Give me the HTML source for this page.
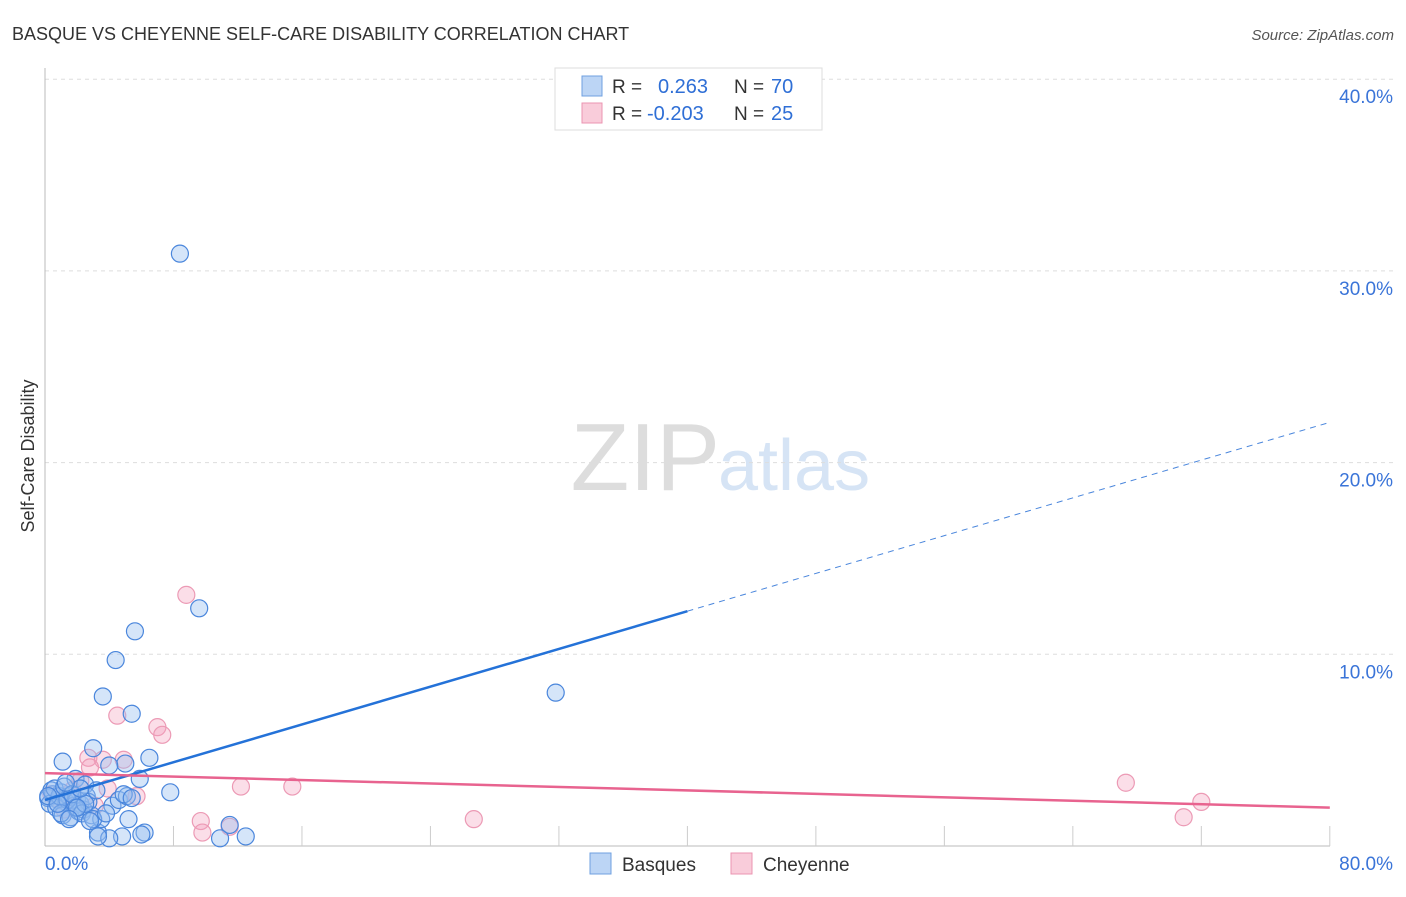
<!DOCTYPE html>
<html><head><meta charset="utf-8"><style>
body{margin:0;background:#fff;font-family:"Liberation Sans",sans-serif;}
svg text{font-family:"Liberation Sans",sans-serif;}
</style></head><body>
<svg id="c" width="1406" height="892">
<text x="12" y="40" font-size="18" fill="#333">BASQUE VS CHEYENNE SELF-CARE DISABILITY CORRELATION CHART</text>
<text x="1394" y="40" font-size="15" fill="#555" font-style="italic" text-anchor="end">Source: ZipAtlas.com</text>
<text x="720" y="490" font-size="96" fill="#ddd" font-family="Liberation Serif" text-anchor="end">ZIP</text>
<text x="718" y="490" font-size="72" fill="#d6e4f5">atlas</text>
<text transform="translate(34,456) rotate(-90)" font-size="18" fill="#333" text-anchor="middle">Self-Care Disability</text>
<g id="grid"></g><g id="pts"></g><g id="lines"></g>
<g>
<rect x="555" y="68" width="267" height="62" fill="#fff" stroke="#ddd"/>
<rect x="582" y="76" width="20" height="20" fill="#bcd5f5" stroke="#6fa0e0"/>
<rect x="582" y="103" width="20" height="20" fill="#f9ccda" stroke="#eb94b1"/>
<text x="612" y="93" font-size="19" fill="#333">R = </text><text x="658" y="93" font-size="20" fill="#2f6fd6">0.263</text>
<text x="734" y="93" font-size="19" fill="#333">N = </text><text x="771" y="93" font-size="20" fill="#2f6fd6">70</text>
<text x="612" y="120" font-size="19" fill="#333">R = </text><text x="647" y="120" font-size="20" fill="#2f6fd6">-0.203</text>
<text x="734" y="120" font-size="19" fill="#333">N = </text><text x="771" y="120" font-size="20" fill="#2f6fd6">25</text>
</g>
<rect x="590" y="853" width="21" height="21" fill="#bcd5f5" stroke="#6fa0e0"/>
<text x="622" y="871" font-size="19" fill="#333">Basques</text>
<rect x="731" y="853" width="21" height="21" fill="#f9ccda" stroke="#eb94b1"/>
<text x="763" y="871" font-size="19" fill="#333">Cheyenne</text>
</svg>
<script>
const yTicks=[10,20,30,40];
const yTickLabels=["10.0%","20.0%","30.0%","40.0%"];
const xTickLabels=["0.0%","80.0%"];
const basquesX=[8.4,9.6,5.6,4.4,3.6,5.4,31.8,3.0,6.5,1.1,5.0,4.0,5.9,7.8,1.9,2.5,3.3,4.8,6.2,10.9,12.5,11.5,5.2,4.0,0.2,0.5,0.8,1.0,1.3,1.5,1.8,2.0,2.2,2.4,2.6,0.3,0.7,1.1,1.6,2.1,2.7,3.2,0.4,0.9,1.4,1.9,2.3,2.9,3.5,4.2,4.6,5.1,0.6,1.2,1.7,2.5,3.0,3.8,1.0,2.0,0.2,1.5,2.8,4.9,5.4,0.8,3.3,2.2,1.3,6.0];
const basquesY=[30.9,12.4,11.2,9.7,7.8,6.9,8.0,5.1,4.6,4.4,4.3,4.2,3.5,2.8,3.5,3.2,0.7,0.5,0.7,0.4,0.5,1.1,1.4,0.4,2.5,2.7,2.4,2.8,2.3,2.6,2.1,2.4,2.2,1.9,2.6,2.2,2.0,1.6,1.5,1.8,2.3,2.9,2.9,2.6,2.4,2.0,1.7,1.6,1.4,2.1,2.4,2.6,3.0,3.1,2.7,2.2,1.4,1.7,1.7,2.0,2.6,1.4,1.3,2.7,2.5,2.2,0.5,3.0,3.3,0.6];
const cheyenneX=[8.8,4.5,7.0,7.3,2.7,3.6,4.9,2.8,12.2,15.4,67.3,72.0,70.9,26.7,9.7,9.8,11.5,5.7,1.7,0.9,3.9,3.1,2.2,0.4,1.2];
const cheyenneY=[13.1,6.8,6.2,5.8,4.6,4.5,4.5,4.1,3.1,3.1,3.3,2.3,1.5,1.4,1.3,0.7,1.0,2.6,2.9,2.4,3.0,2.1,3.4,2.7,1.9];
const basquesTrend=[2.4,22.1];
const cheyenneTrend=[3.8,2.0];
const X=v=>45+v*16.06, Y=v=>846-v*19.17;
const NS="http://www.w3.org/2000/svg";
function mk(t,a,p){const e=document.createElementNS(NS,t);for(const k in a)e.setAttribute(k,a[k]);p.appendChild(e);return e;}
const g=document.getElementById('grid');
yTicks.forEach((t,i)=>{
 const l=mk('line',{x1:45,x2:1395,y1:Y(t),y2:Y(t),stroke:'#ddd','stroke-dasharray':'4,4'},g);
 
 
 const tx=mk('text',{x:1393,y:Y(t)+24,'font-size':19,fill:'#3a74d8','text-anchor':'end'},g);
 tx.textContent=yTickLabels[i];
 
 
});
const ax=mk('line',{x1:45,x2:1330,y1:846,y2:846,stroke:'#bbb'},g);


const ay=mk('line',{x1:45,x2:45,y1:68,y2:846,stroke:'#bbb'},g);


for(let i=1;i<=10;i++){
 const t=mk('line',{x1:X(i*8),x2:X(i*8),y1:826,y2:846,stroke:'#ccc'},g);
 
 
}
[[0,'start',45],[80,'end',1393]].forEach((d,i)=>{
 const tx=mk('text',{x:d[2],y:870,'font-size':19,fill:'#3a74d8','text-anchor':d[1]},g);
 tx.textContent=xTickLabels[i];
 
 
});
const p=document.getElementById('pts');
cheyenneX.forEach((x,i)=>{
 const c=mk('circle',{cx:X(x),cy:Y(cheyenneY[i]),r:8.5,fill:'rgba(244,160,188,0.35)',stroke:'#ec9ab5','stroke-width':1.2},p);
 
 
});
basquesX.forEach((x,i)=>{
 const c=mk('circle',{cx:X(x),cy:Y(basquesY[i]),r:8.5,fill:'rgba(150,190,240,0.4)',stroke:'#4a86dc','stroke-width':1.2},p);
 
 
});
const L=document.getElementById('lines');
const bm=v=>basquesTrend[0]+(basquesTrend[1]-basquesTrend[0])*v/80;
const b1=mk('line',{x1:X(0),y1:Y(bm(0)),x2:X(40),y2:Y(bm(40)),stroke:'#2472d8','stroke-width':2.5},L);


const b2=mk('line',{x1:X(40),y1:Y(bm(40)),x2:X(80),y2:Y(bm(80)),stroke:'#4a86dc','stroke-width':1,'stroke-dasharray':'6,5'},L);


const c1=mk('line',{x1:X(0),y1:Y(cheyenneTrend[0]),x2:X(80),y2:Y(cheyenneTrend[1]),stroke:'#e8638f','stroke-width':2.5},L);


</script>
</body></html>
